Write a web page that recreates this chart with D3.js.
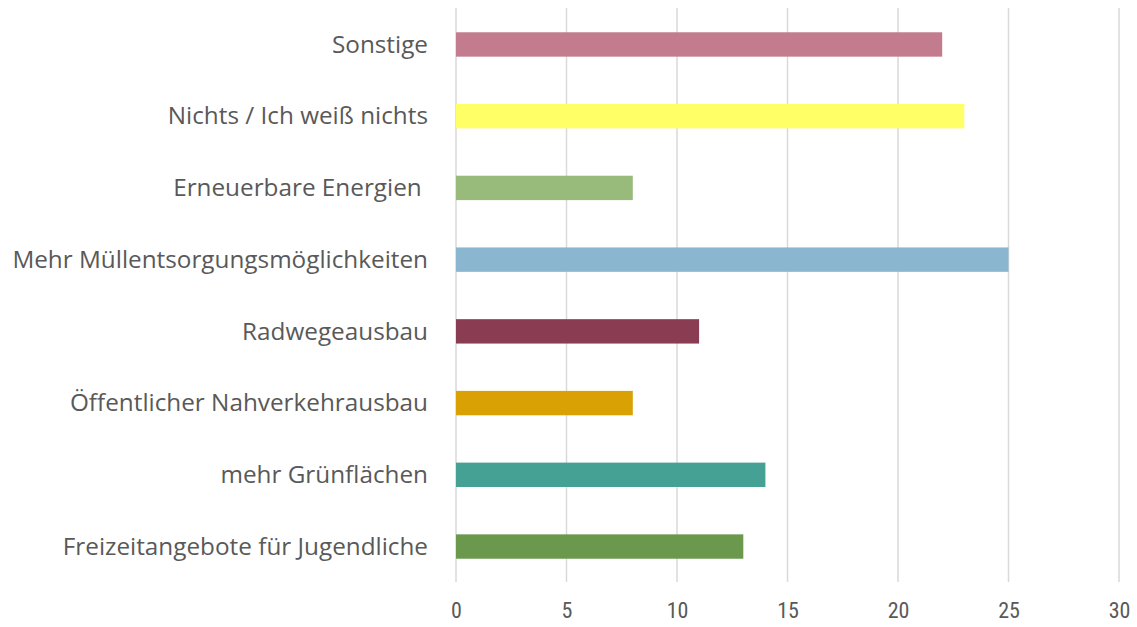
<!DOCTYPE html>
<html><head><meta charset="utf-8">
<script src="https://cdn.jsdelivr.net/npm/d3@7/dist/d3.min.js"></script>
<style>body{margin:0;background:#fff}svg{display:block}</style>
</head><body><svg id="c" width="1137" height="627"></svg>
<script>
const categories = ["Sonstige","Nichts / Ich weiß nichts","Erneuerbare Energien ","Mehr Müllentsorgungsmöglichkeiten","Radwegeausbau","Öffentlicher Nahverkehrausbau","mehr Grünflächen","Freizeitangebote für Jugendliche"];
const values = [22,23,8,25,11,8,14,13];
const colors = ["#C37C8E","#FFFF66","#98BB7B","#8AB6CF","#8A3C53","#D9A103","#44A194","#6A994E"];
const xTicks = [0,5,10,15,20,25,30];

const svg = d3.select("#c");
const x = d3.scaleLinear().domain([0,30]).range([456,1119]);
const y = d3.scaleBand().domain(categories).range([8.6,582.4]).paddingInner(0.66).paddingOuter(0.33);

svg.append("g").selectAll("line").data(xTicks).join("line")
  .attr("x1",d=>x(d)).attr("x2",d=>x(d)).attr("y1",8).attr("y2",582)
  .attr("stroke","#d9d9d9").attr("stroke-width",1.5);

svg.append("g").selectAll("rect").data(values).join("rect")
  .attr("x",x(0)).attr("y",(d,i)=>y(categories[i]))
  .attr("width",d=>x(d)-x(0)).attr("height",y.bandwidth())
  .attr("fill",(d,i)=>colors[i]);

const yAxis = svg.append("g").attr("transform","translate(428,0)")
  .call(d3.axisLeft(y).tickSize(0).tickPadding(0));
yAxis.select(".domain").remove();
const labels = yAxis.selectAll("text").attr("font-family","'Open Sans', sans-serif").attr("font-size",22.5).attr("fill","#595959").attr("dy","0.34em").style("white-space","pre");
let wMax = 0;
labels.each(function(){ if (this.textContent.startsWith("Mehr M")) wMax = this.getComputedTextLength(); });
const fs = 22.5 * 416 / wMax;
labels.attr("font-size", fs);

const xAxis = svg.append("g").attr("transform","translate(0,602)")
  .call(d3.axisBottom(x).tickValues(xTicks).tickSize(0).tickPadding(0));
xAxis.select(".domain").remove();
xAxis.selectAll("text").attr("font-family","'Liberation Sans Narrow', 'Roboto Condensed', 'DejaVu Sans Condensed', sans-serif").attr("font-size",22).attr("fill","#595959");
</script></body></html>
